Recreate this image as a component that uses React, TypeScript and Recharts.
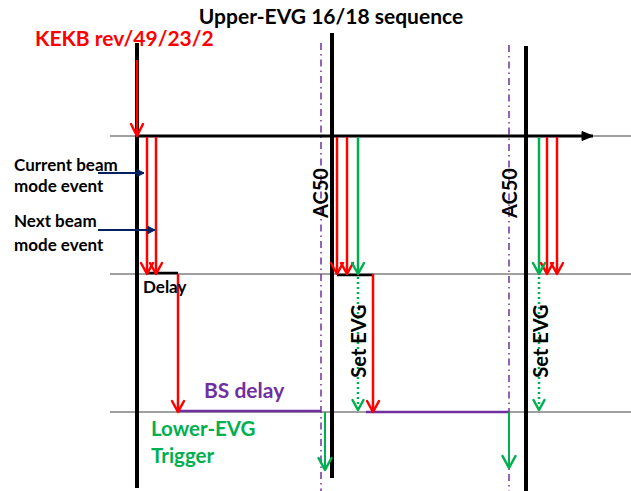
import { ComposedChart, Line, Scatter, XAxis, YAxis } from 'recharts'

const W = 631
const H = 491

// thick black EVG edges
const evgEdges = [
  { x: 137, top: 43, bottom: 488 },
  { x: 332, top: 33, bottom: 478 },
  { x: 526, top: 46, bottom: 491 },
]
// AC50 zero crossings (dash-dot)
const ac50 = [
  { x: 321, top: 43, bottom: 491 },
  { x: 509, top: 45, bottom: 491 },
]
const rows = [136, 274, 412]
const rowSpan = [110, 631]
const timeAxis = { y: 136, from: 137, to: 593 }
const kekb = { x: 137, from: 60, to: 136 }
const redEvents = [147, 156, 337, 347, 547, 557]
const greenEvents = [358, 539]
const eventSpan = [137, 274]
const delayBars = [
  { y: 273, from: 147, to: 178 },
  { y: 275, from: 337, to: 373 },
]
const delayDrops = [178, 373]
const dropSpan = [274, 412]
const setEvg = [358, 539]
const setEvgSpan = [277, 410]
const bsDelay = [
  { y: 411, from: 178, to: 321 },
  { y: 412, from: 366, to: 509 },
]
const triggers = [
  { x: 325, to: 470 },
  { x: 509, to: 468 },
]
const pointers = [
  { y: 173, from: 98, to: 144 },
  { y: 230, from: 98, to: 155 },
]

const titleText = [{ x: 331, y: 24, text: 'Upper-EVG 16/18 sequence' }]
const kekbText = [{ x: 35, y: 46, text: 'KEKB rev/49/23/2' }]
const noteText = [
  { x: 14, y: 171, text: 'Current beam' },
  { x: 14, y: 192, text: 'mode event' },
  { x: 14, y: 227, text: 'Next beam' },
  { x: 14, y: 251, text: 'mode event' },
  { x: 143, y: 293, text: 'Delay' },
]
const ac50Text = [
  { x: 328, y: 193, text: 'AC50' },
  { x: 517, y: 193, text: 'AC50' },
]
const setEvgText = [
  { x: 366, y: 341, text: 'Set EVG' },
  { x: 548, y: 341, text: 'Set EVG' },
]
const bsText = [{ x: 204, y: 398, text: 'BS delay' }]
const triggerText = [
  { x: 151, y: 436, text: 'Lower-EVG' },
  { x: 151, y: 463, text: 'Trigger' },
]

const RED = '#ff0000'
const GREEN = '#00b050'
const PURPLE = '#7030a0'
const NAVY = '#002060'
const GRAY = '#808080'
const FONT = 'Lato, "Open Sans", sans-serif'

type Pt = { x: number; y: number }
type Head = { kind: 'v' | 'tri'; dir: 'down' | 'right'; len: number; half: number }

function tip(color: string, head?: Head) {
  return (p: any) => {
    const { cx, cy, index } = p
    if (!head || index !== 1 || cx == null) return <g key={`d${index}`} />
    const { len, half, dir, kind } = head
    const d =
      dir === 'down'
        ? `M${cx - half},${cy - len} L${cx},${cy} L${cx + half},${cy - len}`
        : `M${cx - len},${cy - half} L${cx},${cy} L${cx - len},${cy + half}`
    return kind === 'tri' ? (
      <path key={`d${index}`} d={d + ' Z'} fill={color} stroke={color} strokeWidth={1} />
    ) : (
      <path
        key={`d${index}`}
        d={d}
        fill="none"
        stroke={color}
        strokeWidth={2.5}
        strokeLinecap="round"
        strokeLinejoin="round"
      />
    )
  }
}

function seg(
  key: string,
  a: Pt,
  b: Pt,
  stroke: string,
  width: number,
  head?: Head,
  dash?: string,
) {
  return (
    <Line
      key={key}
      data={[a, b]}
      dataKey="y"
      type="linear"
      stroke={stroke}
      strokeWidth={width}
      strokeDasharray={dash}
      dot={tip(stroke, head)}
      activeDot={false}
      legendType="none"
      isAnimationActive={false}
    />
  )
}

function labels(
  key: string,
  data: { x: number; y: number; text: string }[],
  color: string,
  size: number,
  anchor: 'start' | 'middle',
  rotate = false,
) {
  return (
    <Scatter
      key={key}
      data={data}
      dataKey="y"
      isAnimationActive={false}
      shape={(p: any) => (
        <text
          x={p.cx}
          y={p.cy}
          fill={color}
          fontSize={size}
          fontWeight={700}
          fontFamily={FONT}
          textAnchor={anchor}
          transform={rotate ? `rotate(-90, ${p.cx}, ${p.cy})` : undefined}
        >
          {p.payload.text}
        </text>
      )}
    />
  )
}

const vDown = (len = 11, half = 6): Head => ({ kind: 'v', dir: 'down', len, half })

export default function App() {
  return (
    <div style={{ position: 'absolute', left: 0, top: 0, background: '#fff' }}>
      <ComposedChart width={W} height={H} margin={{ top: 0, right: 0, bottom: 0, left: 0 }}>
        <XAxis dataKey="x" type="number" domain={[0, W]} allowDataOverflow hide />
        <YAxis type="number" domain={[0, H]} reversed allowDataOverflow hide />

        {rows.map((y, i) =>
          seg(`row${i}`, { x: rowSpan[0], y }, { x: rowSpan[1], y }, GRAY, 1.5),
        )}
        {ac50.map((e, i) =>
          seg(`ac${i}`, { x: e.x, y: e.top }, { x: e.x, y: e.bottom }, PURPLE, 1.5, undefined, '7 4 1.5 4'),
        )}
        {evgEdges.map((e, i) =>
          seg(`evg${i}`, { x: e.x, y: e.top }, { x: e.x, y: e.bottom }, '#000', 4),
        )}
        {seg(
          'time',
          { x: timeAxis.from, y: timeAxis.y },
          { x: timeAxis.to, y: timeAxis.y },
          '#000',
          3,
          { kind: 'tri', dir: 'right', len: 11, half: 4.5 },
        )}
        {seg('kekb', { x: kekb.x, y: kekb.from }, { x: kekb.x, y: kekb.to }, RED, 2.5, vDown(12, 6))}

        {redEvents.map((x, i) =>
          seg(`re${i}`, { x, y: eventSpan[0] }, { x, y: eventSpan[1] }, RED, 2.5, vDown()),
        )}
        {greenEvents.map((x, i) =>
          seg(`ge${i}`, { x, y: eventSpan[0] }, { x, y: eventSpan[1] }, GREEN, 2.5, vDown()),
        )}
        {delayBars.map((b, i) =>
          seg(`db${i}`, { x: b.from, y: b.y }, { x: b.to, y: b.y }, '#000', 2.5),
        )}
        {delayDrops.map((x, i) =>
          seg(`dd${i}`, { x, y: dropSpan[0] }, { x, y: dropSpan[1] }, RED, 2.5, vDown()),
        )}
        {setEvg.map((x, i) =>
          seg(`se${i}`, { x, y: setEvgSpan[0] }, { x, y: setEvgSpan[1] }, GREEN, 2.5, vDown(10, 5.5), '2 3'),
        )}
        {bsDelay.map((b, i) =>
          seg(`bs${i}`, { x: b.from, y: b.y }, { x: b.to, y: b.y }, PURPLE, 2.5),
        )}
        {triggers.map((t, i) =>
          seg(`tr${i}`, { x: t.x, y: rows[2] }, { x: t.x, y: t.to }, GREEN, 2, vDown(12, 6.5)),
        )}
        {pointers.map((p, i) =>
          seg(
            `pt${i}`,
            { x: p.from, y: p.y },
            { x: p.to, y: p.y },
            NAVY,
            2,
            { kind: 'tri', dir: 'right', len: 7, half: 3.5 },
          ),
        )}

        {labels('title', titleText, '#000', 21, 'middle')}
        {labels('kekbT', kekbText, RED, 21, 'start')}
        {labels('notes', noteText, '#000', 17, 'start')}
        {labels('ac50T', ac50Text, '#000', 20, 'middle', true)}
        {labels('setT', setEvgText, '#000', 20, 'middle', true)}
        {labels('bsT', bsText, PURPLE, 21, 'start')}
        {labels('trT', triggerText, GREEN, 20.5, 'start')}
      </ComposedChart>
    </div>
  )
}
